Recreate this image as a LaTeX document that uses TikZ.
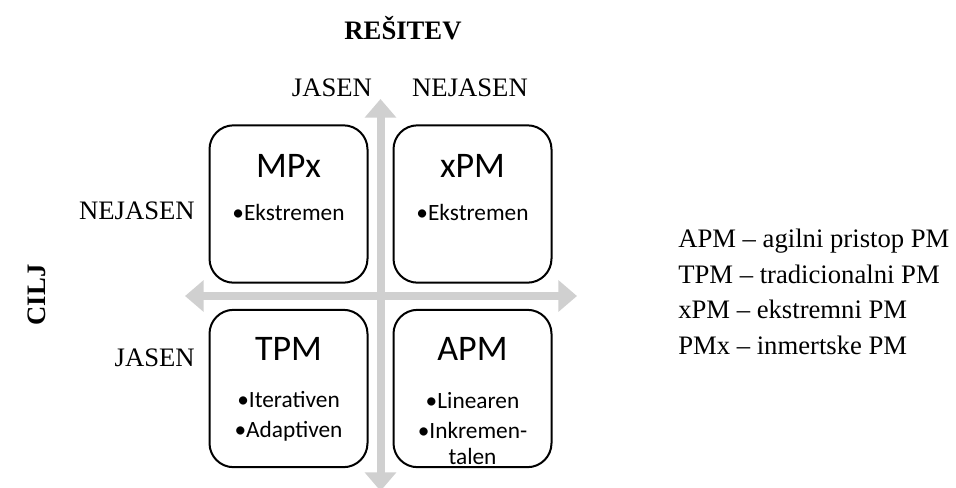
\documentclass[tikz,border=0pt]{standalone}
\usepackage{fontspec}
\setmainfont{Liberation Serif}
\newfontfamily\calfont{Carlito}
\usepackage{xcolor}
\usepackage{tikz}
\usetikzlibrary{arrows.meta,positioning}

\definecolor{axisgray}{HTML}{D0D0D0}

\begin{document}
\begin{tikzpicture}[x=0.75pt, y=-0.75pt,
    every node/.style={font=\fontsize{20}{24}\selectfont, inner sep=0pt},
    quadbox/.style={draw, line width=1.5pt, rounded corners=18pt, minimum width=118.5pt, minimum height=118pt},
    boxtitle/.style={font=\calfont\fontsize{27}{30}\selectfont},
    boxitems/.style={font=\calfont\fontsize{17.5}{22.5}\selectfont, align=center},
    axis/.style={draw=axisgray, line width=6pt, {Triangle[width=23pt, length=14pt]}-{Triangle[width=23pt, length=14pt]}}]
    \useasboundingbox (0,0) rectangle (956,487);

    % Axes
    \coordinate (top) at (380.5,99);
    \coordinate (bottom) at (380.5,491);
    \coordinate (left) at (185,296);
    \coordinate (right) at (577,296);
    \draw[axis] (top) -- (bottom);
    \draw[axis] (left) -- (right);

    % Quadrants
    \node[quadbox] (mpx) at (288.5,204) {};
    \node[quadbox] (xpm) at (472.5,204) {};
    \node[quadbox] (tpm) at (288.5,388.5) {};
    \node[quadbox] (apm) at (472.5,388.5) {};

    \node[boxtitle, below=22pt of mpx.north] (mpxtitle) {MPx};
    \node[boxtitle, below=22pt of xpm.north] (xpmtitle) {xPM};
    \node[boxtitle, below=21pt of tpm.north] (tpmtitle) {TPM};
    \node[boxtitle, below=21pt of apm.north] (apmtitle) {APM};

    % base of a stacked node sits on its last line
    \node[boxitems, anchor=base] (mpxitems) at ([yshift=-72pt]mpx.north) {•Ekstremen};
    \node[boxitems, anchor=base] (xpmitems) at ([yshift=-72pt]xpm.north) {•Ekstremen};
    \node[boxitems, anchor=base] (tpmitems) at ([yshift=-96.75pt]tpm.north) {•Iterativen\\•Adaptiven};
    \node[boxitems, anchor=base] (apmitems) at ([yshift=-117pt]apm.north) {•Linearen\\•Inkremen-\\[-3pt]talen};

    % Axis labels
    \node[font=\bfseries\fontsize{20}{24}\selectfont] (resitev) at (403,28) {REŠITEV};
    \node (jasentop) at (332,88) {JASEN};
    \node (nejasentop) at (470,88) {NEJASEN};
    \node[anchor=east] (nejasenleft) at (195,211) {NEJASEN};
    \node[anchor=east] (jasenleft) at (195,358) {JASEN};
    \node[font=\bfseries\fontsize{20}{24}\selectfont, rotate=90] (cilj) at (37,295) {CILJ};

    % Legend
    \node[anchor=west, align=left, font=\fontsize{20}{26.6}\selectfont] (legend) at (678,292)
        {APM -- agilni pristop PM\\TPM -- tradicionalni PM\\xPM -- ekstremni PM\\PMx -- inmertske PM};
\end{tikzpicture}
\end{document}
